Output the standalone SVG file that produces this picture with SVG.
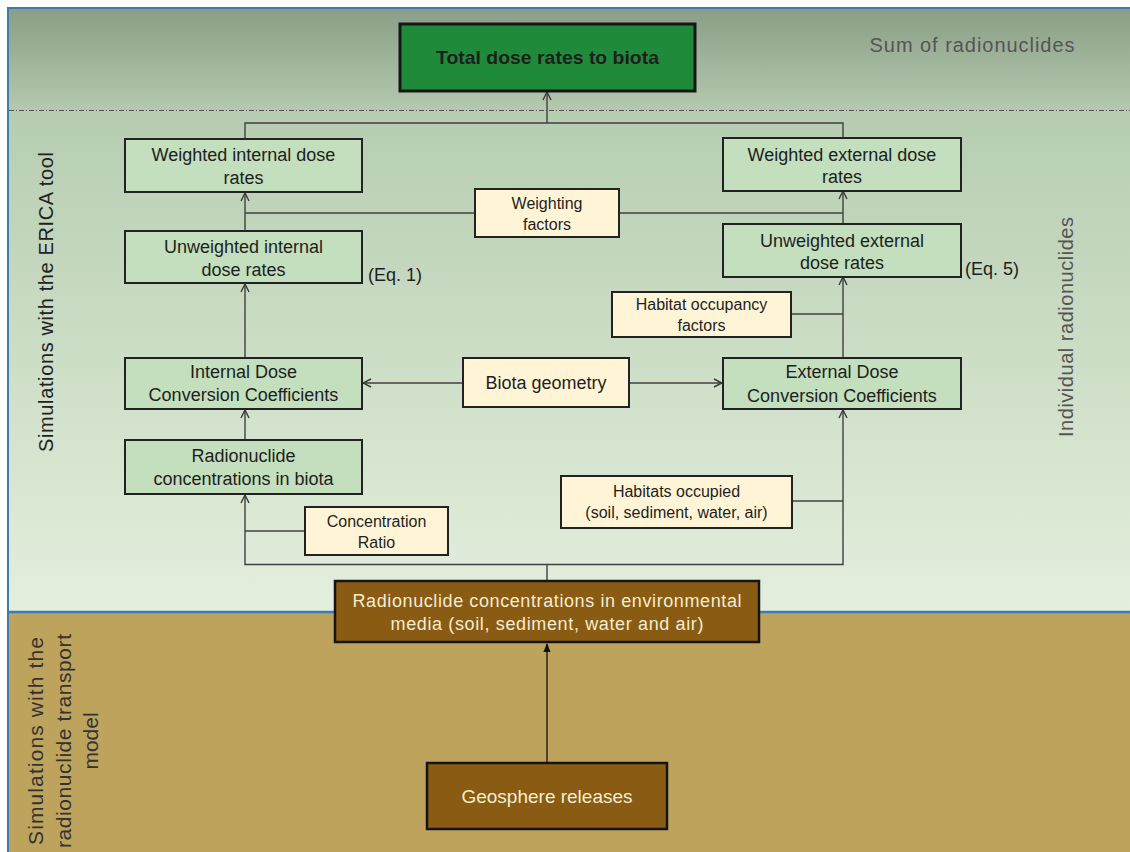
<svg xmlns="http://www.w3.org/2000/svg" width="1130" height="852" viewBox="0 0 1130 852">
<defs>
<linearGradient id="gTop" x1="0" y1="0" x2="0" y2="1">
<stop offset="0" stop-color="#8a9e87"/>
<stop offset="1" stop-color="#b5c9af"/>
</linearGradient>
<linearGradient id="gMid" x1="0" y1="0" x2="0" y2="1">
<stop offset="0" stop-color="#b6cdb1"/>
<stop offset="1" stop-color="#e4efdd"/>
</linearGradient>
<marker id="open" viewBox="0 0 10 10" refX="9" refY="5" markerWidth="10" markerHeight="10" markerUnits="userSpaceOnUse" orient="auto">
<path d="M1,1 L9,5 L1,9" fill="none" stroke="#3a3a3a" stroke-width="1.4"/>
</marker>
<marker id="solid" viewBox="0 0 10 10" refX="9" refY="5" markerWidth="9" markerHeight="9" markerUnits="userSpaceOnUse" orient="auto">
<path d="M0,1 L10,5 L0,9 Z" fill="#111"/>
</marker>
</defs>
<style>
.t{font-family:"Liberation Sans",Arial,sans-serif;fill:#1e1e1e;text-anchor:middle}
.g{fill:#c3dfbd;stroke:#222;stroke-width:2}
.y{fill:#fff5d6;stroke:#222;stroke-width:2}
.b{fill:#8a5b13;stroke:#141414;stroke-width:2.5}
.bt{font-family:"Liberation Sans",Arial,sans-serif;fill:#f4edd2;text-anchor:middle}
.c{fill:none;stroke:#404040;stroke-width:1.4}
.s18{font-size:18px}
.s16{font-size:16px}
</style>
<rect x="0" y="0" width="1130" height="852" fill="#ffffff"/>
<rect x="8" y="8" width="1122" height="103" fill="url(#gTop)"/>
<rect x="8" y="111" width="1122" height="501" fill="url(#gMid)"/>
<rect x="8" y="612" width="1122" height="240" fill="#bea35c"/>
<line x1="7" y1="8" x2="1130" y2="8" stroke="#3b7db0" stroke-width="2"/>
<line x1="8" y1="7" x2="8" y2="852" stroke="#3b7db0" stroke-width="2"/>
<line x1="8" y1="612" x2="1130" y2="612" stroke="#3b7db0" stroke-width="2.5"/>
<line x1="9" y1="110.5" x2="1130" y2="110.5" stroke="#555" stroke-width="1" stroke-dasharray="5,2,1,2"/>
<text x="972" y="52" font-family="Liberation Sans,Arial,sans-serif" font-size="20" fill="#555" text-anchor="middle" textLength="205" lengthAdjust="spacing">Sum of radionuclides</text>
<text transform="translate(53,302) rotate(-90)" font-family="Liberation Sans,Arial,sans-serif" font-size="20" fill="#222" text-anchor="middle" textLength="300" lengthAdjust="spacing">Simulations with the ERICA tool</text>
<text transform="translate(1073,327) rotate(-90)" font-family="Liberation Sans,Arial,sans-serif" font-size="20" fill="#555" text-anchor="middle" textLength="220" lengthAdjust="spacing">Individual radionuclides</text>
<g font-family="Liberation Sans,Arial,sans-serif" font-size="21" fill="#333" text-anchor="middle">
<text transform="translate(43,741) rotate(-90)" textLength="208" lengthAdjust="spacing">Simulations with the</text>
<text transform="translate(71,741) rotate(-90)" textLength="214" lengthAdjust="spacing">radionuclide transport</text>
<text transform="translate(98,741) rotate(-90)">model</text>
</g>
<g id="connectors">
<path class="c" d="M245,139 V123 H843 V138"/>
<path class="c" d="M547,123 V92" marker-end="url(#open)"/>
<path class="c" d="M245,231 V193" marker-end="url(#open)"/>
<path class="c" d="M843,224 V191" marker-end="url(#open)"/>
<path class="c" d="M245,213 H475 M619,213 H843"/>
<path class="c" d="M245,358 V284" marker-end="url(#open)"/>
<path class="c" d="M843,358 V277" marker-end="url(#open)"/>
<path class="c" d="M791,314 H843"/>
<path class="c" d="M463,383 H363" marker-end="url(#open)"/>
<path class="c" d="M629,383 H722" marker-end="url(#open)"/>
<path class="c" d="M245,439 V410" marker-end="url(#open)"/>
<path class="c" d="M547,581 V564.5 H245 V495" marker-end="url(#open)"/>
<path class="c" d="M547,564.5 H843 V410" marker-end="url(#open)"/>
<path class="c" d="M305,531 H245"/>
<path class="c" d="M792,501 H843"/>
<path d="M547,763 V644" fill="none" stroke="#111" stroke-width="1.3" marker-end="url(#solid)"/>
</g>
<g id="total">
<rect x="400" y="24" width="295" height="67" fill="#1f8b3a" stroke="#161616" stroke-width="3"/>
<text class="t" x="547.5" y="64" font-size="19" font-weight="bold" fill="#0d0d0d" textLength="223" lengthAdjust="spacingAndGlyphs">Total dose rates to biota</text>
</g>
<g id="weighted-internal">
<rect class="g" x="125" y="139" width="237" height="53"/>
<text class="t s18" x="243.5" y="161">Weighted internal dose</text>
<text class="t s18" x="243.5" y="184">rates</text>
</g>
<g id="weighted-external">
<rect class="g" x="723" y="138" width="238" height="53"/>
<text class="t s18" x="842" y="161">Weighted external dose</text>
<text class="t s18" x="842" y="183">rates</text>
</g>
<g id="weighting-factors">
<rect class="y" x="475" y="189" width="144" height="48"/>
<text class="t s16" x="547" y="209">Weighting</text>
<text class="t s16" x="547" y="230">factors</text>
</g>
<g id="unweighted-internal">
<rect class="g" x="125" y="231" width="237" height="52"/>
<text class="t s18" x="243.5" y="253">Unweighted internal</text>
<text class="t s18" x="243.5" y="276">dose rates</text>
<text x="368" y="281" font-family="Liberation Sans,Arial,sans-serif" font-size="18" fill="#1e1e1e">(Eq. 1)</text>
</g>
<g id="unweighted-external">
<rect class="g" x="723" y="224" width="238" height="53"/>
<text class="t s18" x="842" y="247">Unweighted external</text>
<text class="t s18" x="842" y="269">dose rates</text>
<text x="965" y="275" font-family="Liberation Sans,Arial,sans-serif" font-size="18" fill="#1e1e1e">(Eq. 5)</text>
</g>
<g id="habitat-occupancy">
<rect class="y" x="612" y="292" width="179" height="45"/>
<text class="t s16" x="701.5" y="310">Habitat occupancy</text>
<text class="t s16" x="701.5" y="331">factors</text>
</g>
<g id="internal-dcc">
<rect class="g" x="125" y="358" width="237" height="51"/>
<text class="t s18" x="243.5" y="378">Internal Dose</text>
<text class="t s18" x="243.5" y="401">Conversion Coefficients</text>
</g>
<g id="biota-geometry">
<rect class="y" x="463" y="358" width="166" height="49"/>
<text class="t s18" x="546" y="389">Biota geometry</text>
</g>
<g id="external-dcc">
<rect class="g" x="723" y="358" width="238" height="51"/>
<text class="t s18" x="842" y="378">External Dose</text>
<text class="t s18" x="842" y="402">Conversion Coefficients</text>
</g>
<g id="rn-biota">
<rect class="g" x="125" y="440" width="237" height="54"/>
<text class="t s18" x="243.5" y="462">Radionuclide</text>
<text class="t s18" x="243.5" y="485">concentrations in biota</text>
</g>
<g id="concentration-ratio">
<rect class="y" x="305" y="507" width="143" height="48"/>
<text class="t s16" x="376.5" y="527">Concentration</text>
<text class="t s16" x="376.5" y="548">Ratio</text>
</g>
<g id="habitats-occupied">
<rect class="y" x="561" y="476" width="231" height="52"/>
<text class="t s16" x="676.5" y="497">Habitats occupied</text>
<text class="t s16" x="676.5" y="518">(soil, sediment, water, air)</text>
</g>
<g id="env-media">
<rect class="b" x="335" y="581" width="424" height="61"/>
<text class="bt" x="547" y="607" font-size="18" textLength="389" lengthAdjust="spacing">Radionuclide concentrations in environmental</text>
<text class="bt" x="547" y="630" font-size="18" textLength="313" lengthAdjust="spacing">media (soil, sediment, water and air)</text>
</g>
<g id="geosphere">
<rect class="b" x="427" y="763" width="240" height="66"/>
<text class="bt" x="547" y="803" font-size="19">Geosphere releases</text>
</g>
</svg>
